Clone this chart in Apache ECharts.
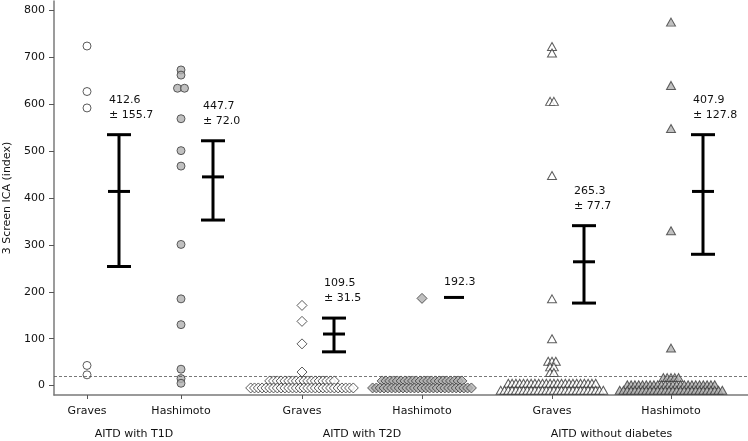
<!DOCTYPE html>
<html>
<head>
<meta charset="utf-8">
<script src="https://cdn.jsdelivr.net/npm/echarts@6/dist/echarts.min.js"></script>
<style>
  html, body { margin: 0; padding: 0; background: #fff; }
  #chart { width: 748px; height: 441px; }
</style>
</head>
<body>
<div id="chart"></div>
<script>
// groups, left to right
const groupNames = ['Graves', 'Hashimoto', 'Graves', 'Hashimoto', 'Graves', 'Hashimoto']
const diseaseNames = ['AITD with T1D', 'AITD with T2D', 'AITD without diabetes']
const yTicks = [0, 100, 200, 300, 400, 500, 600, 700, 800]

// individual values as [value, how many points share it]
const t1dGraves = [[724, 1], [627, 1], [592, 1], [43, 1], [23, 1]]
const t1dHashimoto = [[673, 1], [662, 1], [634, 2], [569, 1], [501, 1], [468, 1], [301, 1], [185, 1], [130, 1], [35, 1], [15, 1], [5, 1]]
const t2dGraves = [[171, 1], [137, 1], [89, 1], [29, 1], [10, 18], [-5, 28]]
const t2dHashimoto = [[186, 1], [10, 22], [-5, 27]]
const ndGraves = [[723, 1], [709, 1], [606, 2], [448, 1], [185, 1], [100, 1], [52, 3], [40, 2], [28, 2], [5, 24], [-10, 28]]
const ndHashimoto = [[775, 1], [640, 1], [548, 1], [330, 1], [80, 1], [17, 5], [2, 24], [-10, 28]]

// mean and bar ends as drawn, plus printed labels
const barMean = [414, 445, 110, 188, 264, 414]
const barLow = [254, 353, 72, 188, 176, 280]
const barHigh = [535, 522, 144, 188, 341, 535]
const barLabels = ['412.6\n± 155.7', '447.7\n± 72.0', '109.5\n± 31.5', '192.3', '265.3\n± 77.7', '407.9\n± 127.8']

const cutoff = 19

// layout (axis units = pixels)
const groupPos = [33, 127, 248, 368, 498, 617]
const diseasePos = [80, 308, 557.5]
const FONT = 'DejaVu Sans'

// spread points sharing a value sideways around the group centre
function swarm (center, rows, step) {
  let pts = []
  rows.forEach(([v, n]) => {
    for (let i = 0; i < n; i++) pts.push([center + (i - (n - 1) / 2) * step, v])
  })
  return pts
}

const white = { color: '#fff', borderColor: '#333', borderWidth: 1 }
const grey = { color: '#b0b0b0', borderColor: '#3a3a3a', borderWidth: 1 }

const dots = [
  { data: t1dGraves, symbol: 'circle', size: 8, step: 7, style: white },
  { data: t1dHashimoto, symbol: 'circle', size: 8, step: 7, style: grey },
  { data: t2dGraves, symbol: 'diamond', size: [10, 10], step: 3.8, style: white },
  { data: t2dHashimoto, symbol: 'diamond', size: [10, 10], step: 3.8, style: grey },
  { data: ndGraves, symbol: 'triangle', size: [9, 8], step: 3.8, style: white },
  { data: ndHashimoto, symbol: 'triangle', size: [9, 8], step: 3.8, style: grey }
]

let chart = echarts.init(document.getElementById('chart'))

let series = dots.map((d, i) => {
  return {
    type: 'scatter',
    symbol: d.symbol,
    symbolSize: d.size,
    data: swarm(groupPos[i], d.data, d.step),
    itemStyle: d.style,
    silent: true,
    animation: false
  }
})

series[0].markLine = {
  silent: true,
  symbol: ['none', 'none'],
  label: { show: false },
  lineStyle: { type: [3, 2], color: '#555', width: 0.8 },
  data: [{ yAxis: cutoff }]
}

series.push({
  type: 'custom',
  silent: true,
  animation: false,
  z: 5,
  data: groupPos.map((p, i) => [p + 32, barLow[i], barMean[i], barHigh[i]]),
  renderItem: (params, api) => {
    const x = api.value(0)
    const pl = api.coord([x, api.value(1)])
    const pm = api.coord([x, api.value(2)])
    const ph = api.coord([x, api.value(3)])
    const single = api.value(3) <= api.value(1)
    const st = { stroke: '#000', lineWidth: 3 }
    let children = []
    if (!single) {
      children.push({ type: 'line', shape: { x1: pl[0], y1: pl[1], x2: ph[0], y2: ph[1] }, style: st })
      children.push({ type: 'line', shape: { x1: ph[0] - 12, y1: ph[1], x2: ph[0] + 12, y2: ph[1] }, style: st })
      children.push({ type: 'line', shape: { x1: pl[0] - 12, y1: pl[1], x2: pl[0] + 12, y2: pl[1] }, style: st })
      children.push({ type: 'line', shape: { x1: pm[0] - 11, y1: pm[1], x2: pm[0] + 11, y2: pm[1] }, style: st })
    } else {
      children.push({ type: 'line', shape: { x1: pm[0] - 10, y1: pm[1], x2: pm[0] + 10, y2: pm[1] }, style: st })
    }
    children.push({
      type: 'text',
      style: {
        text: barLabels[params.dataIndex],
        x: pm[0] - 10,
        y: ph[1] - (single ? 8 : 12),
        fill: '#111',
        font: '11px "' + FONT + '"',
        align: 'left',
        verticalAlign: 'bottom',
        textAlign: 'left',
        textVerticalAlign: 'bottom',
        lineHeight: 15
      }
    })
    return { type: 'group', children: children }
  }
})

chart.setOption({
  animation: false,
  textStyle: { fontFamily: FONT },
  grid: { left: 54, right: 0, top: 1, bottom: 46, outerBoundsMode: 'none', containLabel: false },
  xAxis: [
    {
      type: 'value',
      min: 0,
      max: 694,
      splitLine: { show: false },
      axisLine: { show: true, onZero: false, lineStyle: { color: '#7a7a7a', width: 1.5 } },
      axisTick: { show: true, length: 4, customValues: groupPos, lineStyle: { color: '#555' } },
      axisLabel: {
        customValues: groupPos,
        margin: 11,
        fontSize: 11,
        color: '#111',
        fontFamily: FONT,
        formatter: (v) => groupNames[groupPos.indexOf(v)]
      }
    },
    {
      type: 'value',
      position: 'bottom',
      offset: 23,
      min: 0,
      max: 694,
      splitLine: { show: false },
      axisLine: { show: false, onZero: false },
      axisTick: { show: false },
      axisLabel: {
        customValues: diseasePos,
        margin: 11,
        fontSize: 11,
        color: '#111',
        fontFamily: FONT,
        formatter: (v) => diseaseNames[diseasePos.indexOf(v)]
      }
    }
  ],
  yAxis: {
    type: 'value',
    min: -20,
    max: 820,
    name: '3 Screen ICA (index)',
    nameLocation: 'middle',
    nameGap: 40,
    nameTextStyle: { fontSize: 11, color: '#111', fontFamily: FONT },
    splitLine: { show: false },
    axisLine: { show: true, onZero: false, lineStyle: { color: '#7a7a7a', width: 1.5 } },
    axisTick: { show: true, length: 5, customValues: yTicks, lineStyle: { color: '#555' } },
    axisLabel: { customValues: yTicks, margin: 9, fontSize: 11, color: '#111', fontFamily: FONT }
  },
  series: series
})

window.addEventListener('resize', () => {
  chart.resize()
})
</script>
</body>
</html>
